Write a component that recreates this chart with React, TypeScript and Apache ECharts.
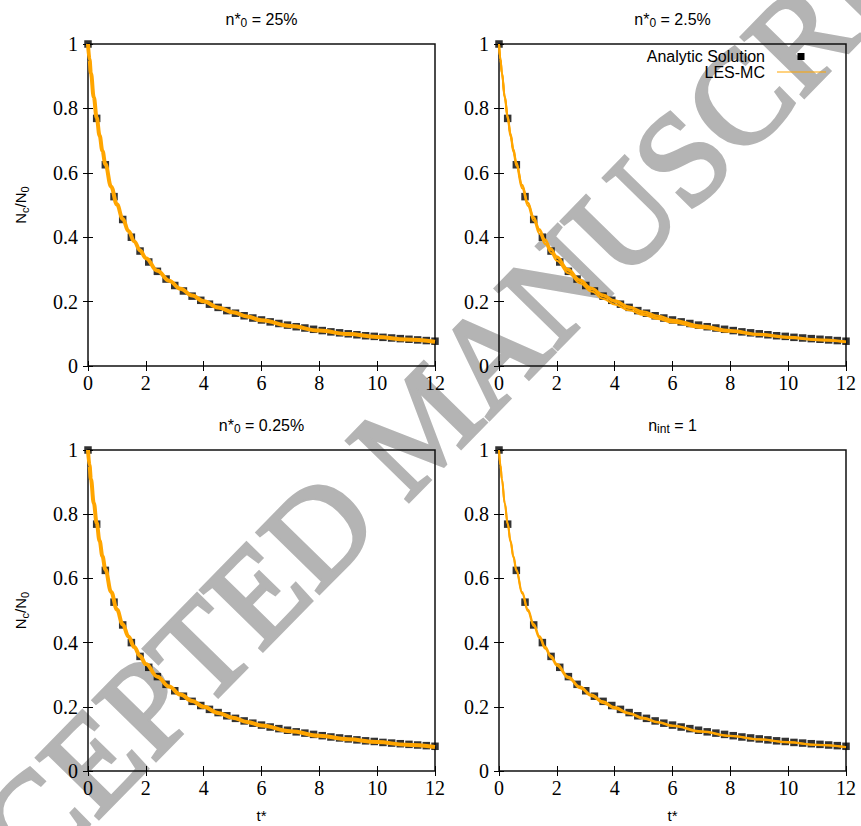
import React, { useEffect, useRef } from "react";
import * as echarts from "echarts";

// Analytic solution (black squares), same in every panel
const T_ANALYTIC = [
  0, 0.3, 0.6, 0.9, 1.2, 1.5, 1.8, 2.1, 2.4, 2.7, 3.0, 3.3, 3.6, 3.9, 4.2, 4.5, 4.8, 5.1, 5.4, 5.7,
  6.0, 6.3, 6.6, 6.9, 7.2, 7.5, 7.8, 8.1, 8.4, 8.7, 9.0, 9.3, 9.6, 9.9, 10.2, 10.5, 10.8, 11.1, 11.4,
  11.7, 12.0,
];
const ANALYTIC = [
  1, 0.769, 0.625, 0.526, 0.455, 0.4, 0.357, 0.323, 0.294, 0.27, 0.25, 0.233, 0.217, 0.204, 0.192,
  0.182, 0.172, 0.164, 0.156, 0.149, 0.143, 0.137, 0.132, 0.127, 0.122, 0.118, 0.114, 0.11, 0.106,
  0.103, 0.1, 0.097, 0.094, 0.092, 0.089, 0.087, 0.085, 0.083, 0.081, 0.079, 0.077,
];

// LES-MC curves (orange)
const T_LES = [
  0, 0.05, 0.1, 0.2, 0.3, 0.4, 0.5, 0.6, 0.8, 1.0, 1.2, 1.4, 1.6, 1.8, 2.0, 2.4, 2.8, 3.2, 3.6, 4.0,
  4.5, 5.0, 5.5, 6.0, 7.0, 8.0, 9.0, 10.0, 11.0, 12.0,
];
const LES_25 = [
  1, 0.953, 0.91, 0.835, 0.772, 0.716, 0.668, 0.627, 0.557, 0.502, 0.457, 0.419, 0.387, 0.359, 0.335,
  0.296, 0.265, 0.24, 0.219, 0.201, 0.182, 0.167, 0.154, 0.142, 0.124, 0.11, 0.099, 0.09, 0.082, 0.075,
];
const LES_2_5_A = [
  1, 0.953, 0.91, 0.836, 0.773, 0.718, 0.67, 0.629, 0.56, 0.505, 0.459, 0.42, 0.388, 0.36, 0.336,
  0.296, 0.264, 0.238, 0.217, 0.199, 0.18, 0.164, 0.151, 0.14, 0.122, 0.109, 0.098, 0.089, 0.081, 0.075,
];
const LES_2_5_B = [
  1, 0.952, 0.908, 0.832, 0.768, 0.712, 0.664, 0.622, 0.552, 0.497, 0.451, 0.411, 0.379, 0.351, 0.327,
  0.288, 0.257, 0.231, 0.209, 0.191, 0.173, 0.158, 0.146, 0.135, 0.118, 0.106, 0.096, 0.087, 0.08, 0.074,
];
const LES_2_5_C = [
  1, 0.954, 0.912, 0.838, 0.776, 0.721, 0.673, 0.632, 0.563, 0.508, 0.463, 0.425, 0.393, 0.365, 0.341,
  0.301, 0.269, 0.243, 0.222, 0.204, 0.185, 0.169, 0.156, 0.144, 0.126, 0.112, 0.1, 0.091, 0.083, 0.076,
];
const LES_0_25 = [
  1, 0.953, 0.91, 0.835, 0.773, 0.717, 0.669, 0.628, 0.558, 0.503, 0.457, 0.419, 0.386, 0.358, 0.333,
  0.294, 0.263, 0.238, 0.218, 0.2, 0.181, 0.166, 0.153, 0.142, 0.124, 0.11, 0.099, 0.09, 0.082, 0.075,
];
const LES_INT_A = [
  1, 0.953, 0.91, 0.835, 0.772, 0.717, 0.669, 0.628, 0.558, 0.503, 0.458, 0.42, 0.387, 0.359, 0.334,
  0.294, 0.263, 0.238, 0.217, 0.199, 0.181, 0.166, 0.153, 0.142, 0.124, 0.11, 0.099, 0.09, 0.082, 0.075,
];
const LES_INT_B = [
  1, 0.952, 0.908, 0.832, 0.769, 0.713, 0.665, 0.624, 0.553, 0.498, 0.452, 0.414, 0.381, 0.353, 0.328,
  0.289, 0.258, 0.233, 0.212, 0.195, 0.178, 0.163, 0.151, 0.14, 0.122, 0.109, 0.098, 0.089, 0.081, 0.074,
];

const X_TICKS = [0, 2, 4, 6, 8, 10, 12];
const Y_TICKS = [0, 0.2, 0.4, 0.6, 0.8, 1];

const PANEL_TITLES = [
  "{a|n*}{s|0}{a| = 25%}",
  "{a|n*}{s|0}{a| = 2.5%}",
  "{a|n*}{s|0}{a| = 0.25%}",
  "{a|n}{s|int}{a| = 1}",
];
const PANEL_LES = [[LES_25], [LES_2_5_A, LES_2_5_B, LES_2_5_C], [LES_0_25], [LES_INT_A, LES_INT_B]];

const ORANGE = "#ffa500";
const SANS = "Liberation Sans";
const SERIF = "Liberation Serif";

const GRIDS = [
  { left: 88, top: 44, width: 347, height: 322 },
  { left: 499, top: 44, width: 347, height: 322 },
  { left: 88, top: 450, width: 347, height: 321 },
  { left: 499, top: 450, width: 347, height: 321 },
];

function pairs(xs: number[], ys: number[]) {
  return xs.map((x, i) => [x, ys[i]]);
}

const richTitle = {
  a: { fontSize: 16, fontFamily: SANS, fontWeight: "normal", color: "#000" },
  s: { fontSize: 12, fontFamily: SANS, fontWeight: "normal", color: "#000", padding: [8, 0, 0, 0] },
};
const richName = {
  a: { fontSize: 15, fontFamily: SANS, fontWeight: "normal", color: "#000" },
  s: { fontSize: 11, fontFamily: SANS, fontWeight: "normal", color: "#000", padding: [8, 0, 0, 0] },
};
const richTick = {
  v: { fontSize: 20, fontFamily: SERIF, fontWeight: "normal", color: "#000" },
};

export default function App() {
  const ref = useRef<HTMLDivElement>(null);

  useEffect(() => {
    if (!ref.current) return;
    const chart = echarts.init(ref.current, null, { renderer: "svg" });

    const xAxes: any[] = [];
    const yAxes: any[] = [];
    const series: any[] = [];
    const titles: any[] = [];

    GRIDS.forEach((g, i) => {
      const tick = { show: true, inside: true, length: 5, lineStyle: { color: "#000", width: 1 } };
      const isBottom = i >= 2;
      const isLeft = i % 2 === 0;
      const tickLabel = {
        margin: 7,
        fontFamily: SERIF,
        fontSize: 20,
        color: "#000",
        formatter: (v: number) => `{v|${v}}`,
        rich: richTick,
      };
      xAxes.push({
        type: "value",
        gridIndex: i,
        min: X_TICKS[0],
        max: X_TICKS[X_TICKS.length - 1],
        interval: X_TICKS[1] - X_TICKS[0],
        position: "bottom",
        axisLine: { show: false },
        axisTick: tick,
        splitLine: { show: false },
        axisLabel: tickLabel,
        name: isBottom ? "t*" : "",
        nameLocation: "middle",
        nameGap: 37,
        nameTextStyle: { fontFamily: SANS, fontSize: 15, color: "#000" },
      });
      xAxes.push({
        type: "value",
        gridIndex: i,
        min: X_TICKS[0],
        max: X_TICKS[X_TICKS.length - 1],
        interval: X_TICKS[1] - X_TICKS[0],
        position: "top",
        axisLine: { show: false },
        axisTick: tick,
        splitLine: { show: false },
        axisLabel: { show: false },
      });
      yAxes.push({
        type: "value",
        gridIndex: i,
        min: Y_TICKS[0],
        max: Y_TICKS[Y_TICKS.length - 1],
        interval: Y_TICKS[1] - Y_TICKS[0],
        position: "left",
        axisLine: { show: false },
        axisTick: tick,
        splitLine: { show: false },
        axisLabel: { ...tickLabel, margin: 10 },
        name: isLeft ? "{a|N}{s|c}{a|/N}{s|0}" : "",
        nameLocation: "middle",
        nameRotate: 90,
        nameGap: 58,
        nameTextStyle: { rich: richName },
      });
      yAxes.push({
        type: "value",
        gridIndex: i,
        min: Y_TICKS[0],
        max: Y_TICKS[Y_TICKS.length - 1],
        interval: Y_TICKS[1] - Y_TICKS[0],
        position: "right",
        axisLine: { show: false },
        axisTick: tick,
        splitLine: { show: false },
        axisLabel: { show: false },
      });

      PANEL_LES[i].forEach((les) => {
        series.push({
          type: "line",
          name: "LES-MC",
          xAxisIndex: i * 2,
          yAxisIndex: i * 2,
          data: pairs(T_LES, les),
          smooth: 0.4,
          smoothMonotone: "x",
          showSymbol: false,
          symbol: "none",
          lineStyle: { color: ORANGE, width: PANEL_LES[i].length === 1 ? 4 : 2 },
          z: 3,
        });
      });
      series.push({
        type: "scatter",
        name: "Analytic Solution",
        xAxisIndex: i * 2,
        yAxisIndex: i * 2,
        data: pairs(T_ANALYTIC, ANALYTIC),
        symbol: "rect",
        symbolSize: 7.5,
        itemStyle: { color: "#000" },
        clip: false,
        z: 2,
      });

      titles.push({
        text: PANEL_TITLES[i],
        left: g.left + g.width / 2,
        top: i < 2 ? 9 : 415,
        textAlign: "center",
        padding: 0,
        textStyle: { fontWeight: "normal", rich: richTitle },
      });
    });

    const option: any = {
      animation: false,
      backgroundColor: "#fff",
      title: titles,
      grid: GRIDS.map((g) => ({
        ...g,
        show: true,
        borderColor: "#111",
        borderWidth: 1.5,
        backgroundColor: "transparent",
        containLabel: false,
      })),
      xAxis: xAxes,
      yAxis: yAxes,
      series,
      graphic: [
        {
          type: "text",
          x: 422,
          y: 424,
          rotation: 0.797,
          z: -10,
          silent: true,
          style: {
            text: "ACCEPTED MANUSCRIPT",
            fontSize: 132,
            fontFamily: SERIF,
            fill: "#b4b4b4",
            stroke: "#b4b4b4",
            lineWidth: 4,
            align: "center",
            verticalAlign: "middle",
          },
        },
        {
          type: "text",
          x: 765,
          y: 56,
          z: 10,
          style: {
            text: "Analytic Solution",
            fontSize: 16,
            fontFamily: SANS,
            fill: "#000",
            align: "right",
            verticalAlign: "middle",
          },
        },
        {
          type: "rect",
          x: 797.5,
          y: 53,
          z: 10,
          shape: { width: 7, height: 7 },
          style: { fill: "#000" },
        },
        {
          type: "text",
          x: 765,
          y: 72,
          z: 10,
          style: {
            text: "LES-MC",
            fontSize: 16,
            fontFamily: SANS,
            fill: "#000",
            align: "right",
            verticalAlign: "middle",
          },
        },
        {
          type: "line",
          z: 10,
          shape: { x1: 777, y1: 72, x2: 826, y2: 72 },
          style: { stroke: ORANGE, lineWidth: 1 },
        },
      ],
    };

    chart.setOption(option);
    return () => chart.dispose();
  }, []);

  return (
    <div
      ref={ref}
      style={{ position: "absolute", left: 0, top: 0, width: 861, height: 826, background: "#fff" }}
    />
  );
}
